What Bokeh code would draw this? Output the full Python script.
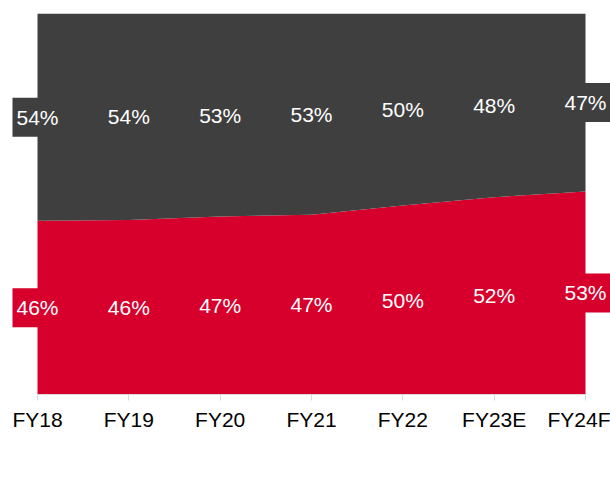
from bokeh.plotting import figure
from bokeh.models import ColumnDataSource, Label, Legend, LegendItem, Range1d, FixedTicker
from bokeh.embed import file_html
from bokeh.resources import INLINE

categories = ["FY18", "FY19", "FY20", "FY21", "FY22", "FY23E", "FY24F"]
retail = [45.6, 45.8, 46.7, 47.2, 49.6, 51.8, 53.3]
wholesale = [54.4, 54.2, 53.3, 52.8, 50.4, 48.2, 46.7]

RED = "#D7002D"
GRAY = "#3F3F3F"
FONT = "Liberation Sans"

x = list(range(len(categories)))
src = ColumnDataSource(dict(x=x, retail=retail, wholesale=wholesale))

n = len(categories) - 1
unit = 548 / n
p = figure(frame_width=610, frame_height=381, output_backend="svg", toolbar_location=None,
           x_range=Range1d(-37 / unit, n + 25 / unit), y_range=Range1d(0, 100),
           min_border_left=0, min_border_right=0, min_border_top=13, min_border_bottom=0)
p.outline_line_color = None
p.grid.visible = False
p.yaxis.visible = False

rs = p.varea_stack(stackers=["retail", "wholesale"], x="x", color=[RED, GRAY], source=src)

ax = p.xaxis[0]
ax.bounds = (0, n)
ax.ticker = FixedTicker(ticks=x)
ax.major_label_overrides = {i: c for i, c in enumerate(categories)}
ax.axis_line_color = "#D9D9D9"
ax.major_tick_line_color = "#D9D9D9"
ax.major_tick_out = 6
ax.major_tick_in = 0
ax.minor_tick_line_color = None
ax.major_label_text_font = FONT
ax.major_label_text_font_size = "21px"
ax.major_label_text_color = "#000000"
ax.major_label_standoff = 7
ax.axis_label = " "
ax.axis_label_text_font_size = "1px"
ax.axis_label_standoff = 23

for i in x:
    r, w = retail[i], wholesale[i]
    for yv, t, col in [(r / 2, f"{round(r)}%", RED), (r + w / 2, f"{round(w)}%", GRAY)]:
        p.add_layout(Label(x=i, y=yv, text=t, text_align="center", text_baseline="middle",
                           text_color="white", text_font=FONT, text_font_size="21px",
                           background_fill_color=col, padding=(4, 8)))

legend = Legend(items=[LegendItem(label="Retail", renderers=[rs[0]]),
                       LegendItem(label="Wholesale", renderers=[rs[1]])],
                orientation="horizontal", location="center",
                border_line_color=None, background_fill_alpha=0,
                label_text_font=FONT, label_text_font_size="21px", label_text_color="#000000",
                glyph_width=12, glyph_height=12, label_standoff=3, spacing=24,
                margin=0, padding=0)
p.add_layout(legend, "below")

open("out.html", "w").write(file_html(p, INLINE))
